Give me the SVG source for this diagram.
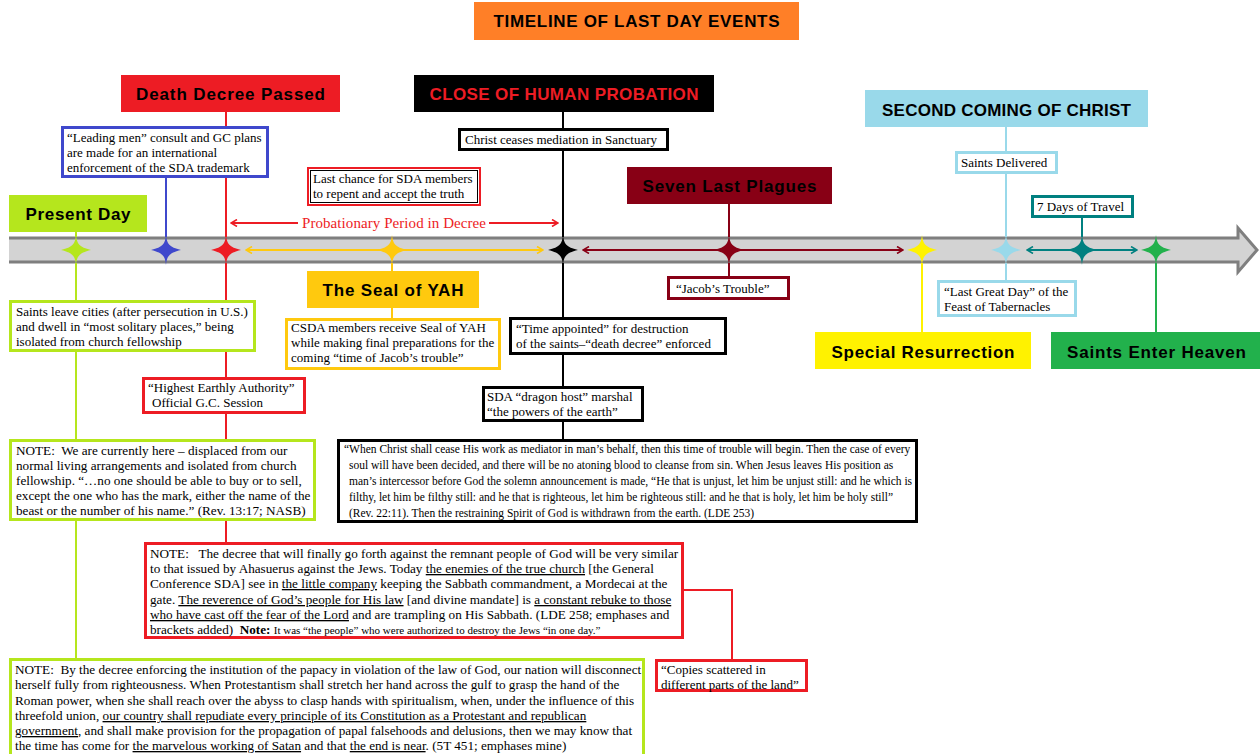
<svg xmlns="http://www.w3.org/2000/svg" width="1260" height="754" viewBox="0 0 1260 754">
<defs>
<style>
.hd{font-family:"Liberation Sans",Arial,sans-serif;font-weight:bold;font-size:17px;fill:#000;text-anchor:middle}
.t{font-family:"Liberation Serif","Times New Roman",serif;font-size:13px;fill:#000}
.s{font-size:11.5px}
.m{font-size:13.2px}
.u{text-decoration:underline}
.b{fill:#fff;stroke-width:3}
.c{fill:none;stroke-width:2}
</style>
<path id="star" d="M0,-15 C1,-6 3,-3 15,0 C3,3 1,6 0,15 C-1,6 -3,3 -15,0 C-3,-3 -1,-6 0,-15Z"/>
<marker id="mGold" viewBox="0 0 8 8" refX="7" refY="4" markerWidth="8" markerHeight="8" markerUnits="userSpaceOnUse" orient="auto-start-reverse"><path d="M1,0.5 L7,4 L1,7.5" fill="none" stroke="#FFC90E" stroke-width="1.6"/></marker>
<marker id="mDred" viewBox="0 0 8 8" refX="7" refY="4" markerWidth="8" markerHeight="8" markerUnits="userSpaceOnUse" orient="auto-start-reverse"><path d="M1,0.5 L7,4 L1,7.5" fill="none" stroke="#880015" stroke-width="1.6"/></marker>
<marker id="mTeal" viewBox="0 0 8 8" refX="7" refY="4" markerWidth="8" markerHeight="8" markerUnits="userSpaceOnUse" orient="auto-start-reverse"><path d="M1,0.5 L7,4 L1,7.5" fill="none" stroke="#008080" stroke-width="1.6"/></marker>
<marker id="mRed" viewBox="0 0 8 8" refX="7" refY="4" markerWidth="8" markerHeight="8" markerUnits="userSpaceOnUse" orient="auto-start-reverse"><path d="M1,0.5 L7,4 L1,7.5" fill="none" stroke="#ED1C24" stroke-width="1.6"/></marker>
</defs>
<rect width="1260" height="754" fill="#fff"/>

<g id="title">
<rect x="474" y="2" width="325" height="38" fill="#FF7F27"/>
<text class="hd" x="636.5" y="27" textLength="286">TIMELINE OF LAST DAY EVENTS</text>
</g>

<g id="timeline">
<path d="M9,238 H1238 V228 L1257,250 L1238,272 V262 H9 Z" fill="#D3D3D3"/>
<path d="M9,238 H1238 V228 L1257,250 L1238,272 V262 H9" fill="none" stroke="#7F7F7F" stroke-width="3"/>
</g>

<g id="connectors">
<path class="c" stroke="#B5E61D" d="M76,232 V237 M76,263 V300 M76,352 V439 M76,521 V658"/>
<path class="c" stroke="#3F48CC" d="M166,178 V237"/>
<path class="c" stroke="#ED1C24" d="M226,112 V126 M226,178 V237 M226,263 V377 M226,414 V542"/>
<path class="c" stroke="#FFC90E" d="M392,263 V271 M392,308 V318"/>
<path class="c" stroke="#000" d="M563,112 V128 M563,151 V237 M563,263 V317 M563,355 V386 M563,422 V439"/>
<path class="c" stroke="#880015" d="M729,204 V237 M729,263 V276"/>
<path class="c" stroke="#FFF200" d="M922,263 V332"/>
<path class="c" stroke="#99D9EA" d="M1006,127 V151 M1006,174 V237 M1006,263 V280"/>
<path class="c" stroke="#008080" d="M1082,218 V237"/>
<path class="c" stroke="#22B14C" d="M1156,263 V332"/>
<path class="c" stroke="#ED1C24" d="M684,590 H732 V659"/>
<line class="c" stroke="#FFC90E" x1="246" y1="250" x2="543" y2="250" marker-start="url(#mGold)" marker-end="url(#mGold)"/>
<line class="c" stroke="#880015" x1="583" y1="250" x2="903" y2="250" marker-start="url(#mDred)" marker-end="url(#mDred)"/>
<line class="c" stroke="#008080" x1="1027" y1="250" x2="1137" y2="250" marker-start="url(#mTeal)" marker-end="url(#mTeal)"/>
<line class="c" stroke="#ED1C24" x1="231" y1="223" x2="298" y2="223" marker-start="url(#mRed)"/>
<line class="c" stroke="#ED1C24" x1="489" y1="223" x2="558" y2="223" marker-end="url(#mRed)"/>
<text class="t" x="302" y="228" style="font-size:15px;fill:#ED1C24" textLength="184">Probationary Period in Decree</text>
</g>

<g id="stars">
<use href="#star" x="76" y="250" fill="#B5E61D"/>
<use href="#star" x="166" y="250" fill="#3F48CC"/>
<use href="#star" x="226" y="250" fill="#ED1C24"/>
<use href="#star" x="392" y="250" fill="#FFC90E"/>
<use href="#star" x="563" y="250" fill="#000"/>
<use href="#star" x="729" y="250" fill="#880015"/>
<use href="#star" x="922" y="250" fill="#FFF200"/>
<use href="#star" x="1006" y="250" fill="#99D9EA"/>
<use href="#star" x="1082" y="250" fill="#008080"/>
<use href="#star" x="1156" y="250" fill="#22B14C"/>
</g>

<g id="death-decree">
<rect x="121" y="75" width="219" height="37" fill="#ED1C24"/>
<text class="hd" x="230.5" y="100" textLength="189">Death Decree Passed</text>
</g>
<g id="close-probation">
<rect x="414" y="75" width="300" height="37" fill="#000"/>
<text class="hd" x="564" y="100" textLength="269" style="fill:#ED1C24">CLOSE OF HUMAN PROBATION</text>
</g>
<g id="seven-plagues">
<rect x="627" y="167" width="205" height="37" fill="#880015"/>
<text class="hd" x="729.5" y="192" textLength="174">Seven Last Plagues</text>
</g>
<g id="second-coming">
<rect x="865" y="90" width="283" height="37" fill="#99D9EA"/>
<text class="hd" x="1006.5" y="116" textLength="249">SECOND COMING OF CHRIST</text>
</g>
<g id="present-day">
<rect x="9" y="195" width="138" height="37" fill="#B5E61D"/>
<text class="hd" x="78" y="220" textLength="105">Present Day</text>
</g>
<g id="seal-yah">
<rect x="307" y="271" width="172" height="37" fill="#FFC90E"/>
<text class="hd" x="393" y="296" textLength="141">The Seal of YAH</text>
</g>
<g id="special-resurrection">
<rect x="815" y="332" width="216" height="37" fill="#FFF200"/>
<text class="hd" x="923" y="358" textLength="183">Special Resurrection</text>
</g>
<g id="saints-enter-heaven">
<rect x="1051" y="332" width="209" height="37" fill="#22B14C"/>
<text class="hd" x="1156.5" y="358" textLength="179">Saints Enter Heaven</text>
</g>

<g id="leading-men">
<rect class="b" x="62.5" y="127.5" width="205" height="49" stroke="#3F48CC"/>
<text class="t" x="67"><tspan y="142">“Leading men” consult and GC plans</tspan><tspan x="67" y="157">are made for an international</tspan><tspan x="67" y="172">enforcement of the SDA trademark</tspan></text>
</g>
<g id="last-chance">
<rect x="308" y="168" width="172" height="37" fill="#fff" stroke="#ED1C24" stroke-width="2"/>
<rect x="310.5" y="170.5" width="167" height="32" fill="none" stroke="#000" stroke-width="1"/>
<text class="t" x="313"><tspan y="183">Last chance for SDA members</tspan><tspan x="313" y="198">to repent and accept the truth</tspan></text>
</g>
<g id="christ-ceases">
<rect class="b" x="459.5" y="129.5" width="208" height="20" stroke="#000"/>
<text class="t" x="465" y="144">Christ ceases mediation in Sanctuary</text>
</g>
<g id="saints-delivered">
<rect class="b" x="956.5" y="152.5" width="100" height="20" stroke="#99D9EA"/>
<text class="t" x="961" y="167">Saints Delivered</text>
</g>
<g id="seven-days">
<rect class="b" x="1032.5" y="196.5" width="100" height="20" stroke="#008080"/>
<text class="t" x="1037" y="211">7 Days of Travel</text>
</g>
<g id="saints-leave">
<rect class="b" x="10.5" y="301.5" width="244" height="49" stroke="#B5E61D"/>
<text class="t" x="16"><tspan y="316">Saints leave cities (after persecution in U.S.)</tspan><tspan x="16" y="331">and dwell in “most solitary places,” being</tspan><tspan x="16" y="346">isolated from church fellowship</tspan></text>
</g>
<g id="csda-seal">
<rect class="b" x="286.5" y="319.5" width="213" height="49" stroke="#FFC90E"/>
<text class="t" x="291"><tspan y="332">CSDA members receive Seal of YAH</tspan><tspan x="291" y="347">while making final preparations for the</tspan><tspan x="291" y="362">coming “time of Jacob’s trouble”</tspan></text>
</g>
<g id="highest-authority">
<rect class="b" x="143.5" y="378.5" width="161" height="34" stroke="#ED1C24"/>
<text class="t"><tspan x="148" y="392">“Highest Earthly Authority”</tspan><tspan x="152" y="407">Official G.C. Session</tspan></text>
</g>
<g id="note-current">
<rect class="b" x="10.5" y="440.5" width="304" height="79" stroke="#B5E61D"/>
<text class="t" x="16" style="font-size:13.2px"><tspan y="455">NOTE:&#160; We are currently here – displaced from our</tspan><tspan x="16" y="470">normal living arrangements and isolated from church</tspan><tspan x="16" y="485">fellowship. “…no one should be able to buy or to sell,</tspan><tspan x="16" y="500">except the one who has the mark, either the name of the</tspan><tspan x="16" y="515">beast or the number of his name.” (Rev. 13:17; NASB)</tspan></text>
</g>
<g id="jacobs-trouble">
<rect class="b" x="668.5" y="277.5" width="120" height="21" stroke="#880015"/>
<text class="t" x="676" y="293">“Jacob’s Trouble”</text>
</g>
<g id="time-appointed">
<rect class="b" x="510.5" y="318.5" width="215" height="35" stroke="#000"/>
<text class="t" x="516"><tspan y="333">“Time appointed” for destruction</tspan><tspan x="516" y="348">of the saints–“death decree” enforced</tspan></text>
</g>
<g id="dragon-host">
<rect class="b" x="483.5" y="387.5" width="159" height="33" stroke="#000"/>
<text class="t" x="487"><tspan y="401">SDA “dragon host” marshal</tspan><tspan x="487" y="416">“the powers of the earth”</tspan></text>
</g>
<g id="ellen-quote">
<rect class="b" x="338.5" y="440.5" width="578" height="81" stroke="#000"/>
<text class="t s"><tspan x="344" y="453">“When Christ shall cease His work as mediator in man’s behalf, then this time of trouble will begin. Then the case of every</tspan><tspan x="349" y="469">soul will have been decided, and there will be no atoning blood to cleanse from sin. When Jesus leaves His position as</tspan><tspan x="349" y="485">man’s intercessor before God the solemn announcement is made, “He that is unjust, let him be unjust still: and he which is</tspan><tspan x="349" y="501">filthy, let him be filthy still: and he that is righteous, let him be righteous still: and he that is holy, let him be holy still”</tspan><tspan x="349" y="517">(Rev. 22:11). Then the restraining Spirit of God is withdrawn from the earth. (LDE 253)</tspan></text>
</g>
<g id="last-great-day">
<rect class="b" x="938.5" y="281.5" width="137" height="34" stroke="#99D9EA"/>
<text class="t" x="944"><tspan y="296">“Last Great Day” of the</tspan><tspan x="944" y="311">Feast of Tabernacles</tspan></text>
</g>
<g id="note-decree">
<rect class="b" x="145.5" y="543.5" width="537" height="94" stroke="#ED1C24"/>
<text class="t m"><tspan x="150" y="558">NOTE:&#160;&#160; The decree that will finally go forth against the remnant people of God will be very similar</tspan><tspan x="150" y="573">to that issued by Ahasuerus against the Jews. Today <tspan class="u">the enemies of the true church</tspan> [the General</tspan><tspan x="150" y="588">Conference SDA] see in <tspan class="u">the little company</tspan> keeping the Sabbath commandment, a Mordecai at the</tspan><tspan x="150" y="604">gate. <tspan class="u">The reverence of God’s people for His law</tspan> [and divine mandate] is <tspan class="u">a constant rebuke to those</tspan></tspan><tspan x="150" y="619"><tspan class="u">who have cast off the fear of the Lord</tspan> and are trampling on His Sabbath. (LDE 258; emphases and</tspan><tspan x="150" y="634">brackets added)&#160; <tspan font-weight="bold">Note:</tspan> <tspan style="font-size:11px">It was “the people” who were authorized to destroy the Jews “in one day.”</tspan></tspan></text>
</g>
<g id="copies-scattered">
<rect class="b" x="656.5" y="660.5" width="150" height="30" stroke="#ED1C24"/>
<text class="t" x="661"><tspan y="674">“Copies scattered in</tspan><tspan x="661" y="689">different parts of the land”</tspan></text>
</g>
<g id="note-papacy">
<rect class="b" x="10.5" y="659.5" width="633" height="100" stroke="#B5E61D"/>
<text class="t m"><tspan x="15" y="674">NOTE:&#160; By the decree enforcing the institution of the papacy in violation of the law of God, our nation will disconnect</tspan><tspan x="15" y="689">herself fully from righteousness. When Protestantism shall stretch her hand across the gulf to grasp the hand of the</tspan><tspan x="15" y="705">Roman power, when she shall reach over the abyss to clasp hands with spiritualism, when, under the influence of this</tspan><tspan x="15" y="720">threefold union, <tspan class="u">our country shall repudiate every principle of its Constitution as a Protestant and republican</tspan></tspan><tspan x="15" y="735"><tspan class="u">government</tspan>, and shall make provision for the propagation of papal falsehoods and delusions, then we may know that</tspan><tspan x="15" y="750">the time has come for <tspan class="u">the marvelous working of Satan</tspan> and that <tspan class="u">the end is near</tspan>. (5T 451; emphases mine)</tspan></text>
</g>
</svg>
